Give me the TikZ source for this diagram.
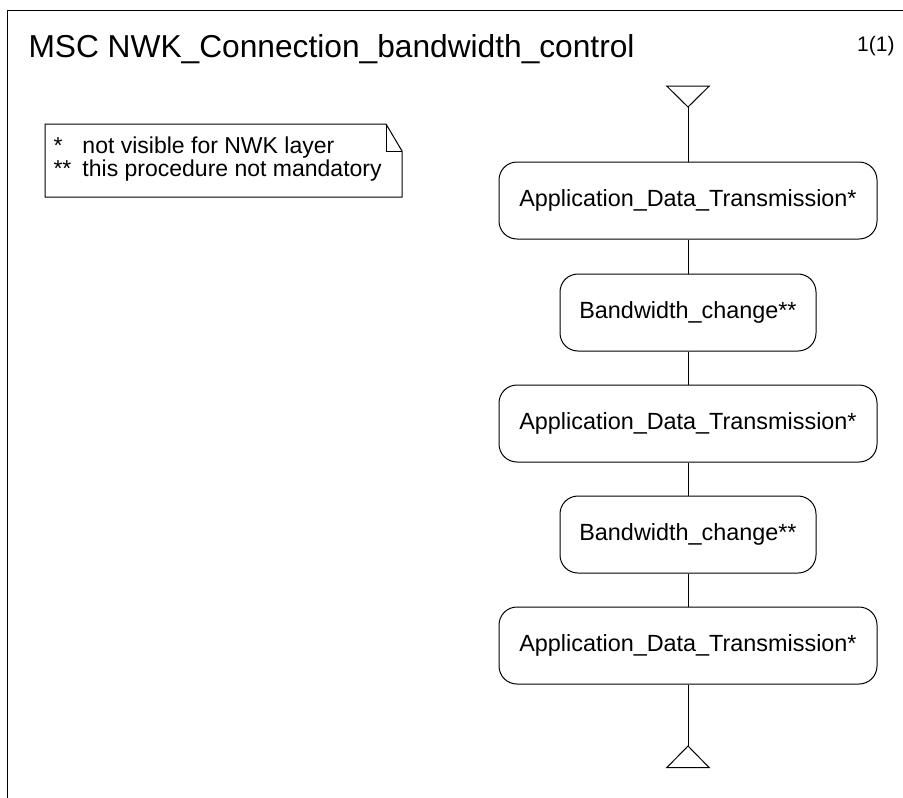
\documentclass[tikz,border=0pt]{standalone}
\usepackage{fontspec}
\setmainfont{Liberation Sans}
\begin{document}
\begin{tikzpicture}[x=1pt,y=-1pt,
  line width=1pt,
  refbox/.style={draw, rounded corners=18pt, minimum height=77pt, inner sep=0pt,
                 font=\fontsize{23.4}{26}\selectfont},
  widebox/.style={refbox, minimum width=378pt},
  narrowbox/.style={refbox, minimum width=256pt},
  lifeline/.style={draw, line width=1pt},
  endmark/.style={draw, line width=1pt, line join=miter}
]
\useasboundingbox (0,0) rectangle (903,798);

% diagram frame
\draw (903,10.7) -- (7.5,10.7) -- (7.5,798);

% heading and page number
\node[anchor=base west, inner sep=0pt, font=\fontsize{31.7}{34}\selectfont] (title) at (28,57.5)
  {MSC NWK\_Connection\_bandwidth\_control};
\node[anchor=base east, inner sep=0pt, font=\fontsize{21}{24}\selectfont] (page) at (895,51) {1(1)};

% comment with folded corner
\coordinate (nw) at (45,124);
\coordinate (fold) at (386,124);
\coordinate (fe) at (402,151);
\coordinate (se) at (402,197);
\coordinate (sw) at (45,197);
\draw (nw) -- (fold) -- (fe) -- (se) -- (sw) -- cycle;
\draw (fold) -- (386,151) -- (fe);
\node[anchor=base west, inner sep=0pt, font=\fontsize{23}{21.5}\selectfont, align=left] (legend) at (53,153)
  {\begin{tabular}[t]{@{}p{29pt}@{}l@{}}{*}&not visible for NWK layer\\ {**}&this procedure not mandatory\end{tabular}};

% start and end symbols of the instance
\coordinate (start) at (688,107);
\draw[endmark] (666.7,86) -- (709.3,86) -- (start) -- cycle;
\coordinate (stop) at (688,746);
\draw[endmark] (666.7,767.7) -- (709.3,767.7) -- (stop) -- cycle;

% MSC references
\node[widebox]   (adt1) at (688,200.5) {Application\_Data\_Transmission*};
\node[narrowbox] (bw1)  at (688,312.5) {Bandwidth\_change**};
\node[widebox]   (adt2) at (688,423.5) {Application\_Data\_Transmission*};
\node[narrowbox] (bw2)  at (688,534.5) {Bandwidth\_change**};
\node[widebox]   (adt3) at (688,645.5) {Application\_Data\_Transmission*};

% instance axis
\draw[lifeline] (start) -- (adt1.north);
\draw[lifeline] (adt1.south) -- (bw1.north);
\draw[lifeline] (bw1.south) -- (adt2.north);
\draw[lifeline] (adt2.south) -- (bw2.north);
\draw[lifeline] (bw2.south) -- (adt3.north);
\draw[lifeline] (adt3.south) -- (stop);
\end{tikzpicture}
\end{document}
